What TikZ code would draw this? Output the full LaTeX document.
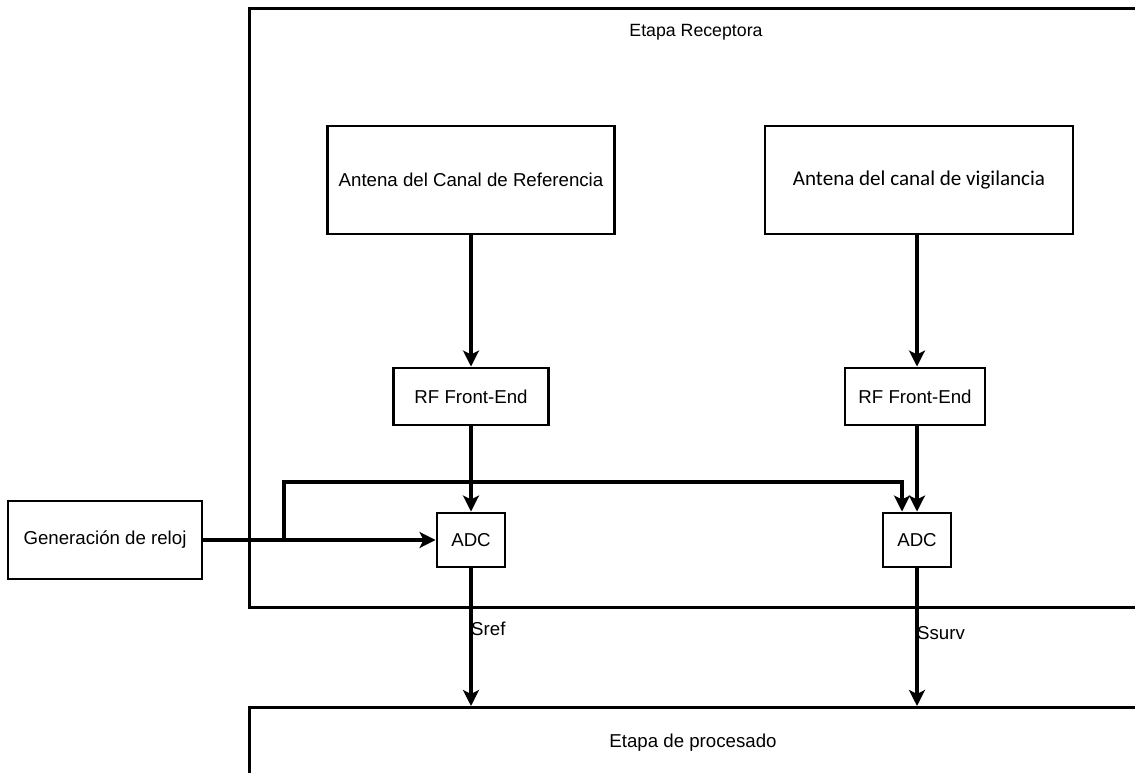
\documentclass[tikz,border=0pt]{standalone}
\usepackage{fontspec}
\setmainfont{Liberation Sans}
\newfontfamily\calib{Carlito}
\usetikzlibrary{arrows.meta}
\begin{document}
\begin{tikzpicture}[x=0.75pt,y=-0.75pt,
  every node/.style={font=\fontsize{14}{16}\selectfont, inner sep=0pt},
  blk/.style={draw, line width=2.2pt, fill=white},
  conn/.style={line width=2.3pt, -{Stealth[length=12pt,width=12pt,inset=3pt]}}]
\useasboundingbox (0,0) rectangle (1135,773);
\clip (0,0) rectangle (1135,773);

% stage containers (extend past the right and bottom edges)
\node[blk, anchor=north west, minimum width=1000*0.75pt, minimum height=599*0.75pt] (rec) at (248,7) {};
\node[anchor=center] (rectxt) at (696,32) {\fontsize{13.3}{15}\selectfont Etapa Receptora};
\node[blk, anchor=north west, minimum width=1000*0.75pt, minimum height=200*0.75pt] (proc) at (248,706) {};
\node (proctxt) at (693,743) {Etapa de procesado};

% antennas
\node[blk, minimum width=287*0.75pt, minimum height=108*0.75pt] (antref) at (471,180) {Antena del Canal de Referencia};
\node[blk, minimum width=308*0.75pt, minimum height=108*0.75pt] (antvig) at (919,180) {\raisebox{-3pt}{\calib\fontsize{15.8}{18}\selectfont Antena del canal de vigilancia}};

% RF front-ends
\node[blk, minimum width=155*0.75pt, minimum height=57*0.75pt] (rf1) at (471,396.5) {RF Front-End};
\node[blk, minimum width=140*0.75pt, minimum height=57*0.75pt] (rf2) at (915,396.5) {RF Front-End};

% converters
\node[blk, minimum width=68*0.75pt, minimum height=54*0.75pt] (adc1) at (471,540) {ADC};
\node[blk, minimum width=68*0.75pt, minimum height=54*0.75pt] (adc2) at (917,540) {ADC};

% clock source
\node[blk, minimum width=194*0.75pt, minimum height=78*0.75pt] (clk) at (105,540) {Generación de reloj};

% signal chain
\draw[conn] (antref.south -| rf1.north) -- (rf1.north);
\draw[conn] (antvig.south -| adc2.north) -- (adc2.north |- rf2.north);
\draw[conn] (rf1.south -| adc1.north) -- (adc1.north);
\draw[conn] (rf2.south -| adc2.north) -- (adc2.north);

% clock distribution
\coordinate (br) at (284,540);
\coordinate (adc2clk) at ([xshift=-15*0.75pt]adc2.north);
\draw[conn] (clk.east) -- (adc1.west);
\draw[conn] (br) -- (284,482) -| (adc2clk);

% outputs to processing
\draw[conn] (adc1.south) -- (adc1.south |- proc.north) node[pos=0.44, anchor=west, xshift=-1pt] {Sref};
\draw[conn] (adc2.south) -- (adc2.south |- proc.north) node[pos=0.47, anchor=west, xshift=-1pt] {Ssurv};
\end{tikzpicture}
\end{document}
